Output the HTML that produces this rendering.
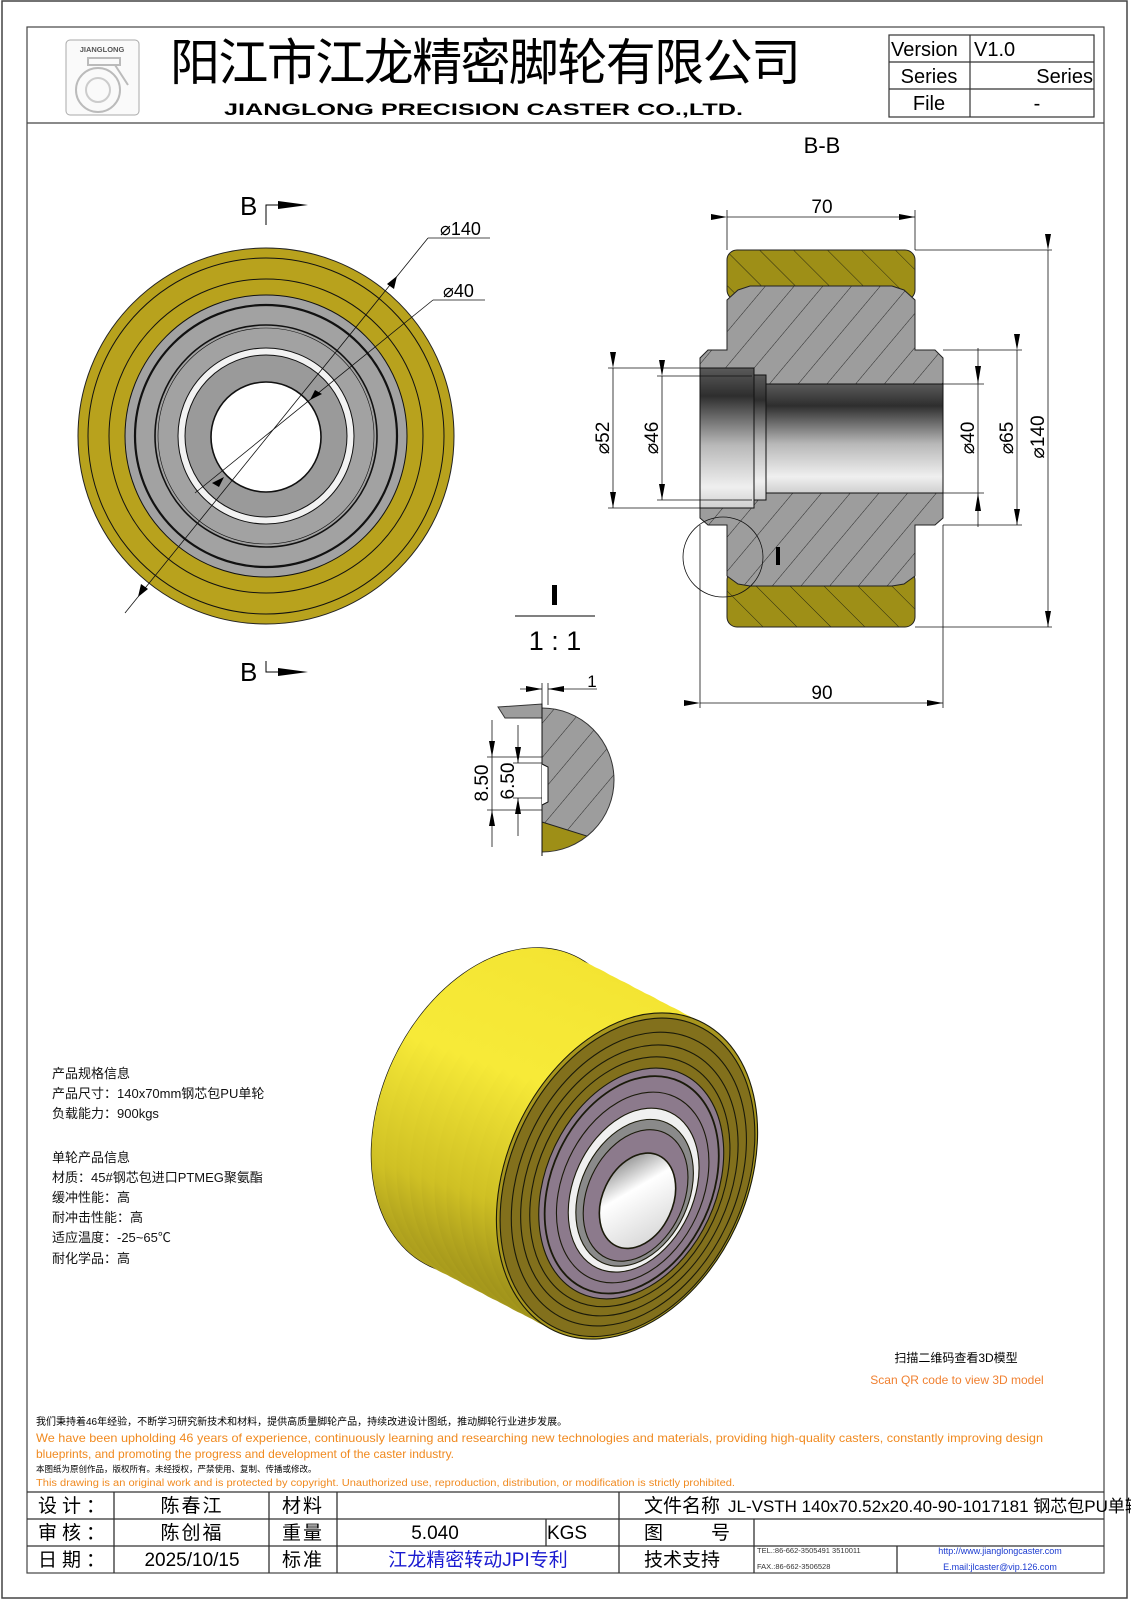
<!DOCTYPE html>
<html><head><meta charset="utf-8"><style>
html,body{margin:0;padding:0;background:#fff}
svg{display:block}
text{font-family:"Liberation Sans","Noto Sans CJK SC",sans-serif}
</style></head><body>
<svg width="1131" height="1600" viewBox="0 0 1131 1600" xmlns="http://www.w3.org/2000/svg">
<defs>
<pattern id="hg" width="22" height="22" patternUnits="userSpaceOnUse" patternTransform="rotate(40)">
<rect width="22" height="22" fill="#9d9d9d"/><line x1="0" y1="0" x2="0" y2="22" stroke="#2a2a2a" stroke-width="1"/></pattern>
<pattern id="hy" width="24" height="24" patternUnits="userSpaceOnUse" patternTransform="rotate(-45)">
<rect width="24" height="24" fill="#9e8f17"/><line x1="0" y1="0" x2="0" y2="24" stroke="#2a2a10" stroke-width="1"/></pattern>
<linearGradient id="bore" x1="0" y1="0" x2="0" y2="1">
<stop offset="0" stop-color="#5a5a5a"/><stop offset="0.2" stop-color="#2e2e2e"/><stop offset="0.55" stop-color="#b8b8b8"/><stop offset="0.85" stop-color="#efefef"/><stop offset="1" stop-color="#d0d0d0"/></linearGradient>
<linearGradient id="body" gradientUnits="userSpaceOnUse" x1="560" y1="960" x2="430" y2="1320">
<stop offset="0" stop-color="#f3e432"/><stop offset="0.45" stop-color="#f7ea38"/><stop offset="0.75" stop-color="#cfc024"/><stop offset="1" stop-color="#7e7214"/></linearGradient>
<linearGradient id="boreW" x1="0" y1="0" x2="1" y2="1">
<stop offset="0" stop-color="#666"/><stop offset="0.4" stop-color="#fff"/><stop offset="1" stop-color="#cfcfcf"/></linearGradient>
<clipPath id="det"><circle cx="542" cy="780" r="72"/></clipPath>
<marker id="ar" viewBox="0 0 16 6" refX="16" refY="3" markerWidth="16" markerHeight="6" orient="auto" markerUnits="userSpaceOnUse"><path d="M0,0 L16,3 L0,6 Z" fill="#000"/></marker>
</defs>

<rect x="2" y="1" width="1125" height="1597" fill="none" stroke="#444" stroke-width="1.5"/>
<rect x="27" y="27" width="1077" height="1546" fill="none" stroke="#444" stroke-width="1.2"/>
<line x1="27" y1="123" x2="1104" y2="123" stroke="#444" stroke-width="1.2"/>

<rect x="66" y="40" width="73" height="75" rx="4" fill="#fafafa" stroke="#aaa"/>
<text x="102" y="52" font-size="7.5" font-weight="bold" text-anchor="middle" fill="#555">JIANGLONG</text>
<circle cx="98" cy="90" r="22" fill="none" stroke="#bbb" stroke-width="2"/>
<circle cx="98" cy="90" r="12" fill="none" stroke="#ccc" stroke-width="2"/>
<path d="M88,58 L120,58 L120,65 L88,65 Z M115,65 L128,85" fill="none" stroke="#bbb" stroke-width="2"/>

<text x="170" y="80" font-size="50" textLength="631" lengthAdjust="spacing" font-family="'Noto Sans CJK SC',sans-serif">阳江市江龙精密脚轮有限公司</text>
<text x="224" y="115" font-size="17" font-weight="bold" textLength="519" lengthAdjust="spacingAndGlyphs">JIANGLONG PRECISION CASTER CO.,LTD.</text>

<g stroke="#333" stroke-width="1.2" fill="none">
<rect x="889" y="35" width="205" height="82"/>
<line x1="889" y1="62" x2="1094" y2="62"/><line x1="889" y1="89" x2="1094" y2="89"/>
<line x1="970" y1="35" x2="970" y2="117"/></g>
<g font-size="20">
<text x="891" y="56">Version</text><text x="974" y="56">V1.0</text>
<text x="929" y="83" text-anchor="middle">Series</text><text x="1093" y="83" text-anchor="end">Series</text>
<text x="929" y="110" text-anchor="middle">File</text><text x="1037" y="110" text-anchor="middle">-</text></g>
<text x="822" y="153" font-size="22" text-anchor="middle">B-B</text>

<g stroke="#111" stroke-width="1">
<circle cx="266" cy="436" r="188" fill="#b8a21d" stroke="#222"/>
<circle cx="266" cy="436" r="178" fill="none"/>
<circle cx="266" cy="436" r="157" fill="none"/>
<circle cx="266" cy="436" r="141" fill="#a2a2a2"/>
<circle cx="266" cy="436" r="131" fill="none" stroke-width="2.2"/>
<circle cx="266" cy="436" r="111" fill="none" stroke-width="1.6"/>
<circle cx="266" cy="436" r="108" fill="none" stroke-width="0.6"/>
<circle cx="266" cy="436" r="88" fill="#f2f2f2"/>
<circle cx="266" cy="436" r="81" fill="#9a9a9a"/>
<circle cx="266" cy="437" r="55" fill="#fff" stroke-width="1.6"/>
</g>
<g stroke="#111" stroke-width="0.8" fill="none">
<line x1="125" y1="613" x2="428" y2="238"/><line x1="428" y1="238" x2="490" y2="238"/>
<line x1="195" y1="493" x2="433" y2="300"/><line x1="433" y1="300" x2="485" y2="300"/>
</g>
<g fill="#000">
<path d="M397,276 l-3,13 l-7,-5 z"/><path d="M138,597 l3,-13 l7,5 z"/>
<path d="M322,394 l-12,6 l5,-10 z"/><path d="M212,483 l12,-6 l-5,10 z"/>
</g>
<text x="440" y="235" font-size="18">⌀140</text>
<text x="443" y="297" font-size="18">⌀40</text>
<g font-size="26"><text x="240" y="215">B</text><text x="240" y="681">B</text></g>
<g stroke="#000" fill="none"><path d="M266,225 L266,205 L278,205"/><path d="M266,661 L266,672 L278,672"/></g>
<path d="M278,201 L308,205 L278,209 Z M278,668 L308,672 L278,676 Z" fill="#000"/>

<rect x="727" y="250" width="188" height="50" rx="10" fill="url(#hy)" stroke="#222"/>
<rect x="727" y="570" width="188" height="57" rx="10" fill="url(#hy)" stroke="#222"/>
<path d="M727,300 L738,290 L750,286 L892,286 L904,290 L915,300 L915,350 L935,350 L943,358 L943,518 L935,525 L915,525 L915,576 L904,584 L892,586 L750,586 L738,584 L727,576 L727,525 L708,525 L700,518 L700,358 L708,350 L727,350 Z" fill="url(#hg)" stroke="#222"/>
<rect x="765" y="384" width="178" height="109" fill="url(#bore)" stroke="#111"/>
<rect x="752" y="375" width="14" height="125" fill="url(#bore)" stroke="#111"/>
<rect x="700" y="368" width="54" height="140" fill="url(#bore)" stroke="#111"/>
<g stroke="#111" stroke-width="0.8" fill="none">
<line x1="727" y1="210" x2="727" y2="250"/><line x1="915" y1="210" x2="915" y2="250"/>
<line x1="727" y1="217" x2="915" y2="217" marker-start="url(#ar)" marker-end="url(#ar)"/>
<line x1="700" y1="525" x2="700" y2="708"/><line x1="943" y1="525" x2="943" y2="708"/>
<line x1="700" y1="703" x2="943" y2="703" marker-start="url(#ar)" marker-end="url(#ar)"/>
<line x1="608" y1="368" x2="700" y2="368"/><line x1="608" y1="508" x2="700" y2="508"/>
<line x1="613" y1="368" x2="613" y2="508" marker-start="url(#ar)" marker-end="url(#ar)"/>
<line x1="657" y1="376" x2="752" y2="376"/><line x1="657" y1="500" x2="752" y2="500"/>
<line x1="662" y1="376" x2="662" y2="500" marker-start="url(#ar)" marker-end="url(#ar)"/>
<line x1="943" y1="384" x2="984" y2="384"/><line x1="943" y1="493" x2="984" y2="493"/>
<line x1="978" y1="348" x2="978" y2="527"/>
<line x1="943" y1="350" x2="1022" y2="350"/><line x1="943" y1="525" x2="1022" y2="525"/>
<line x1="1017" y1="350" x2="1017" y2="525" marker-start="url(#ar)" marker-end="url(#ar)"/>
<line x1="915" y1="250" x2="1052" y2="250"/><line x1="915" y1="627" x2="1052" y2="627"/>
<line x1="1048" y1="250" x2="1048" y2="627" marker-start="url(#ar)" marker-end="url(#ar)"/>
<circle cx="723" cy="557" r="40"/>
</g>
<path d="M975,366 L978,384 L981,366 Z M975,511 L978,493 L981,511 Z" fill="#000"/>
<g font-size="19">
<text x="822" y="213" text-anchor="middle">70</text>
<text x="822" y="699" text-anchor="middle">90</text>
<text transform="translate(609,438) rotate(-90)" text-anchor="middle">⌀52</text>
<text transform="translate(658,438) rotate(-90)" text-anchor="middle">⌀46</text>
<text transform="translate(974,438) rotate(-90)" text-anchor="middle">⌀40</text>
<text transform="translate(1013,438) rotate(-90)" text-anchor="middle">⌀65</text>
<text transform="translate(1044,437) rotate(-90)" text-anchor="middle">⌀140</text>
</g>
<rect x="776" y="547" width="4" height="18" fill="#000"/>

<rect x="552" y="585" width="5" height="20" fill="#000"/>
<line x1="515" y1="616" x2="595" y2="616" stroke="#000"/>
<text x="555" y="650" font-size="27" text-anchor="middle">1 : 1</text>
<g clip-path="url(#det)">
<rect x="542" y="700" width="80" height="160" fill="url(#hg)"/>
<path d="M542,822 L590,837 L598,850 L542,870 Z" fill="#9e8f17" stroke="#222"/>
</g>
<path d="M542,708 A72,72 0 0 1 542,852" fill="none" stroke="#333"/>
<path d="M498,707 L542,704 L542,718 L505,718 Z" fill="#9d9d9d" stroke="#333"/>
<line x1="542" y1="704" x2="542" y2="856" stroke="#111"/>
<path d="M542,764 L548,767 L548,802 L542,805" fill="#fff" stroke="#111"/>
<g stroke="#111" stroke-width="0.8" fill="none">
<line x1="542" y1="683" x2="542" y2="705"/><line x1="548" y1="683" x2="548" y2="705"/>
<line x1="520" y1="689" x2="542" y2="689" marker-end="url(#ar)"/>
<line x1="597" y1="689" x2="548" y2="689" marker-end="url(#ar)"/>
<line x1="487" y1="757" x2="542" y2="757"/><line x1="487" y1="810" x2="542" y2="810"/>
<line x1="492" y1="720" x2="492" y2="757" marker-end="url(#ar)"/>
<line x1="492" y1="847" x2="492" y2="810" marker-end="url(#ar)"/>
<line x1="492" y1="757" x2="492" y2="810"/>
<line x1="513" y1="763" x2="542" y2="763"/><line x1="513" y1="798" x2="542" y2="798"/>
<line x1="518" y1="725" x2="518" y2="763" marker-end="url(#ar)"/>
<line x1="518" y1="836" x2="518" y2="798" marker-end="url(#ar)"/>
</g>
<text x="592" y="687" font-size="17" text-anchor="middle">1</text>
<g font-size="19"><text transform="translate(488,783) rotate(-90)" text-anchor="middle">8.50</text>
<text transform="translate(514,781) rotate(-90)" text-anchor="middle">6.50</text></g>

<ellipse cx="502" cy="1111" rx="120" ry="171" transform="rotate(25 502 1111)" fill="#f0e232" stroke="#111" stroke-width="1.3"/>
<g fill="url(#body)">
<ellipse cx="502" cy="1111" rx="120" ry="171" transform="rotate(25 502 1111)"/>
<ellipse cx="515" cy="1118" rx="120" ry="171" transform="rotate(25 515 1118)"/>
<ellipse cx="527" cy="1124" rx="120" ry="171" transform="rotate(25 527 1124)"/>
<ellipse cx="540" cy="1131" rx="120" ry="171" transform="rotate(25 540 1131)"/>
<ellipse cx="552" cy="1137" rx="120" ry="171" transform="rotate(25 552 1137)"/>
<ellipse cx="565" cy="1144" rx="120" ry="171" transform="rotate(25 565 1144)"/>
<ellipse cx="577" cy="1150" rx="120" ry="171" transform="rotate(25 577 1150)"/>
<ellipse cx="590" cy="1157" rx="120" ry="171" transform="rotate(25 590 1157)"/>
<ellipse cx="602" cy="1163" rx="120" ry="171" transform="rotate(25 602 1163)"/>
<ellipse cx="615" cy="1170" rx="120" ry="171" transform="rotate(25 615 1170)"/>
</g>
<g transform="translate(627 1176) rotate(25)" stroke="#1a1a0a" stroke-width="1.1">
<ellipse cx="0" cy="0" rx="120" ry="171" fill="#a8961e"/>
<ellipse cx="1" cy="1" rx="117" ry="167" fill="#82701c"/>
<ellipse cx="3" cy="2" rx="108" ry="154" fill="none"/>
<ellipse cx="4" cy="3" rx="100" ry="142" fill="none"/>
<ellipse cx="5" cy="4" rx="92" ry="131" fill="none"/>
<ellipse cx="7" cy="5" rx="85" ry="121" fill="#8c7a8c"/>
<ellipse cx="8" cy="6" rx="80" ry="114" fill="none" stroke-width="1.8"/>
<ellipse cx="10" cy="8" rx="70" ry="100" fill="none"/>
<ellipse cx="12" cy="10" rx="60" ry="86" fill="#f0f0f0"/>
<ellipse cx="14" cy="12" rx="54" ry="77" fill="#8a8a8a"/>
<ellipse cx="16" cy="14" rx="48" ry="69" fill="#8c7a8c"/>
<ellipse cx="20" cy="18" rx="35" ry="50" fill="url(#boreW)" stroke-width="1.6"/>
</g>

<g font-size="13" fill="#111">
<text x="52" y="1078">产品规格信息</text>
<text x="52" y="1098">产品尺寸：140x70mm钢芯包PU单轮</text>
<text x="52" y="1118">负载能力：900kgs</text>
<text x="52" y="1162">单轮产品信息</text>
<text x="52" y="1182">材质：45#钢芯包进口PTMEG聚氨酯</text>
<text x="52" y="1202">缓冲性能：高</text>
<text x="52" y="1222">耐冲击性能：高</text>
<text x="52" y="1242">适应温度：-25~65℃</text>
<text x="52" y="1263">耐化学品：高</text>
</g>
<text x="956" y="1362" font-size="12" text-anchor="middle">扫描二维码查看3D模型</text>
<text x="957" y="1384" font-size="12" text-anchor="middle" fill="#f08030" font-family="'Liberation Mono',monospace">Scan QR code to view 3D model</text>

<text x="36" y="1425" font-size="10">我们秉持着46年经验，不断学习研究新技术和材料，提供高质量脚轮产品，持续改进设计图纸，推动脚轮行业进步发展。</text>
<text x="36" y="1442" font-size="12" fill="#f08a20" textLength="1007" lengthAdjust="spacingAndGlyphs">We have been upholding 46 years of experience, continuously learning and researching new technologies and materials, providing high-quality casters, constantly improving design</text>
<text x="36" y="1458" font-size="12" fill="#f08a20">blueprints, and promoting the progress and development of the caster industry.</text>
<text x="36" y="1472" font-size="8.5">本图纸为原创作品，版权所有。未经授权，严禁使用、复制、传播或修改。</text>
<text x="36" y="1486" font-size="10" fill="#f08a20" textLength="699" lengthAdjust="spacingAndGlyphs">This drawing is an original work and is protected by copyright. Unauthorized use, reproduction, distribution, or modification is strictly prohibited.</text>

<text x="728" y="1512" font-size="17" font-family="'Liberation Serif','Noto Serif CJK SC',serif">JL-VSTH 140x70.52x20.40-90-1017181 钢芯包PU单轮</text>
<g stroke="#333" stroke-width="1.3" fill="none">
<line x1="27" y1="1492" x2="1104" y2="1492"/>
<line x1="27" y1="1519" x2="1104" y2="1519"/>
<line x1="27" y1="1546" x2="1104" y2="1546"/>
<line x1="114" y1="1492" x2="114" y2="1573"/>
<line x1="269" y1="1492" x2="269" y2="1573"/>
<line x1="337" y1="1492" x2="337" y2="1573"/>
<line x1="546" y1="1519" x2="546" y2="1546"/>
<line x1="619" y1="1492" x2="619" y2="1573"/>
<line x1="754" y1="1519" x2="754" y2="1573"/>
<line x1="897" y1="1546" x2="897" y2="1573"/>
</g>
<rect x="640" y="1494" width="86" height="23" fill="#fff"/>
<g font-size="19">
<text x="38" y="1512" letter-spacing="5">设计：</text>
<text x="38" y="1539" letter-spacing="5">审核：</text>
<text x="38" y="1566" letter-spacing="5">日期：</text>
<text x="192" y="1512" text-anchor="middle" letter-spacing="2">陈春江</text>
<text x="192" y="1539" text-anchor="middle" letter-spacing="2">陈创福</text>
<text x="192" y="1566" text-anchor="middle">2025/10/15</text>
<text x="303" y="1512" text-anchor="middle" letter-spacing="2">材料</text>
<text x="303" y="1539" text-anchor="middle" letter-spacing="2">重量</text>
<text x="303" y="1566" text-anchor="middle" letter-spacing="2">标准</text>
<text x="435" y="1539" text-anchor="middle">5.040</text>
<text x="567" y="1539" text-anchor="middle">KGS</text>
<text x="478" y="1566" text-anchor="middle" fill="#1a1ad0">江龙精密转动JPI专利</text>
<text x="644" y="1512">文件名称</text>
<text x="644" y="1539">图</text><text x="711" y="1539">号</text>
<text x="644" y="1566">技术支持</text>
</g>
<g font-size="7.5" font-family="'Liberation Serif',serif" fill="#333">
<text x="757" y="1553">TEL.:86-662-3505491 3510011</text>
<text x="757" y="1569">FAX.:86-662-3506528</text></g>
<g font-size="9" fill="#1a3ad0" text-anchor="middle">
<text x="1000" y="1554">http://www.jianglongcaster.com</text>
<text x="1000" y="1570">E.mail:jlcaster@vip.126.com</text></g>
</svg>
</body></html>
